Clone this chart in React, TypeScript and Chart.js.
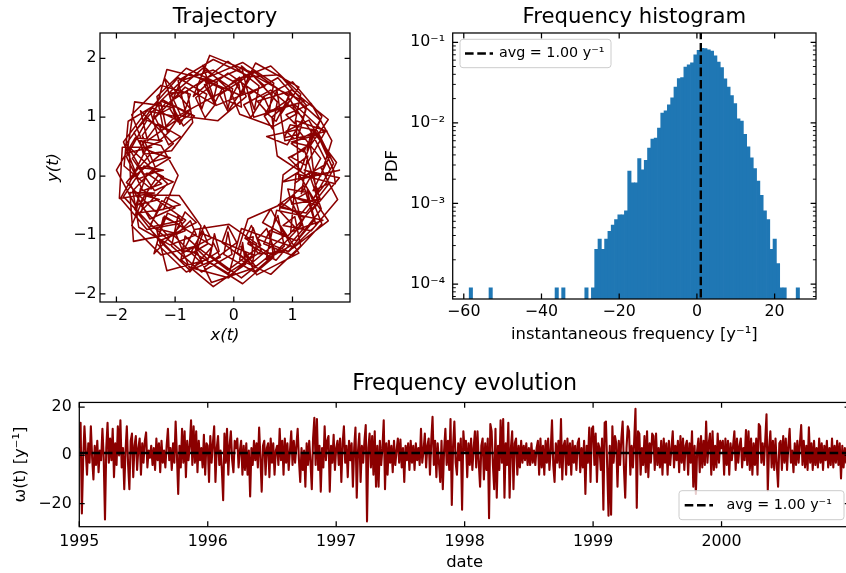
import React, { useEffect, useRef } from 'react';
import { Chart, registerables } from 'chart.js';

Chart.register(...registerables);

const FONT = "'DejaVu Sans', 'Liberation Sans', sans-serif";
const DARKRED = '#8b0000';
const HIST_BLUE = '#1f77b4';
const AVG_FREQ = 1.0;
const AVG_LABEL = 'avg = 1.00 y⁻¹';

// ---------- Trajectory (x(t), y(t)) : noisy laps around the ring ----------
const trajLap1: [number, number][] = [
  [1.65,0.10],[1.33,0.73],[0.98,0.55],[1.19,0.41],[1.47,0.95],[0.93,1.43],[0.40,1.27],[0.56,1.09],[0.75,1.48],[0.13,1.83],
  [-0.50,1.55],[-0.33,1.23],[-0.20,1.48],[-0.76,1.74],[-1.25,1.27],[-1.13,0.73],[-0.97,0.95],[-1.39,1.16],[-1.83,0.55],[-1.53,0.03],
  [-1.20,0.10],[-1.53,0.17],[-1.88,-0.35],[-1.39,-0.86],[-0.87,-0.75],[-1.13,-0.63],[-1.30,-1.07],[-0.76,-1.59],[-0.25,-1.28],[-0.33,-0.98],
  [-0.40,-1.35],[0.13,-1.73],[0.70,-1.28],[0.56,-0.89],[0.40,-1.07],[0.93,-1.28],[1.37,-0.75],[1.19,-0.16],[0.98,-0.35],[1.33,-0.43],
];
const trajLap2: [number, number][] = [
  [1.20,0.45],[0.93,0.31],[1.14,0.10],[1.36,0.69],[0.95,1.31],[0.52,1.02],[0.66,0.80],[0.74,1.26],[0.30,1.74],[-0.24,1.38],
  [-0.10,1.10],[0.09,1.38],[-0.50,1.64],[-1.09,1.26],[-0.86,0.85],[-0.67,1.02],[-1.15,1.26],[-1.56,0.69],[-1.34,0.15],[-1.08,0.31],
  [-1.40,0.40],[-1.83,-0.11],[-1.34,-0.60],[-0.91,-0.49],[-1.15,-0.36],[-1.42,-0.82],[-0.86,-1.30],[-0.39,-1.06],[-0.50,-0.84],[-0.66,-1.18],
  [-0.10,-1.60],[0.46,-1.18],[0.30,-0.84],[0.19,-1.06],[0.66,-1.35],[1.17,-0.82],[0.95,-0.36],[0.76,-0.49],[1.14,-0.65],[1.58,-0.11],
];
const trajLap3: [number, number][] = [
  [1.20,0.10],[1.48,0.00],[1.67,0.60],[1.32,1.23],[0.89,1.04],[1.04,0.89],[1.14,1.39],[0.63,1.87],[0.00,1.62],[0.15,1.38],
  [0.25,1.70],[-0.35,1.98],[-0.95,1.62],[-0.83,1.12],[-0.74,1.39],[-1.24,1.54],[-1.74,1.04],[-1.52,0.48],[-1.22,0.60],[-1.68,0.65],
  [-2.00,0.10],[-1.68,-0.50],[-1.27,-0.40],[-1.52,-0.33],[-1.74,-0.84],[-1.24,-1.34],[-0.64,-1.19],[-0.83,-1.02],[-0.90,-1.42],[-0.35,-1.88],
  [0.20,-1.50],[0.15,-1.13],[0.10,-1.42],[0.63,-1.67],[1.14,-1.19],[1.04,-0.69],[0.84,-0.84],[1.32,-0.93],[1.77,-0.40],[1.48,0.15],
];
const trajLap4: [number, number][] = [
  [1.15,-0.30],[1.48,0.30],[1.09,0.79],[0.56,0.67],[0.91,0.53],[1.19,0.99],[0.63,1.46],[0.17,1.21],[0.29,0.99],[0.50,1.33],
  [-0.10,1.75],[-0.65,1.33],[-0.49,0.99],[-0.32,1.21],[-0.83,1.51],[-1.34,0.99],[-1.11,0.53],[-0.91,0.67],[-1.29,0.89],[-1.73,0.30],
  [-1.35,-0.25],[-1.03,-0.10],[-1.29,0.01],[-1.61,-0.47],[-1.11,-1.03],[-0.64,-0.79],[-0.83,-0.61],[-1.02,-1.01],[-0.49,-1.54],[0.05,-1.13],
  [-0.10,-0.85],[-0.20,-1.13],[0.29,-1.49],[0.87,-1.01],[0.63,-0.56],[0.49,-0.79],[0.91,-1.03],[1.41,-0.47],[1.09,0.06],[0.83,-0.10],
];
const trajLap5: [number, number][] = [
  [1.70,0.10],[1.43,0.70],[0.98,0.58],[1.28,0.51],[1.50,1.01],[1.00,1.60],[0.51,1.35],[0.61,1.13],[0.68,1.58],[0.15,1.93],
  [-0.50,1.65],[-0.35,1.28],[-0.28,1.58],[-0.81,1.83],[-1.31,1.35],[-1.20,0.80],[-1.00,1.01],[-1.48,1.11],[-1.88,0.58],[-1.63,-0.05],
  [-1.25,0.10],[-1.63,0.15],[-1.93,-0.38],[-1.48,-0.91],[-0.95,-0.81],[-1.20,-0.70],[-1.31,-1.15],[-0.81,-1.63],[-0.23,-1.38],[-0.35,-1.13],
  [-0.45,-1.45],[0.15,-1.83],[0.68,-1.38],[0.61,-0.93],[0.51,-1.15],[1.00,-1.35],[1.50,-0.81],[1.28,-0.26],[1.08,-0.38],[1.43,-0.50],
];
const trajLap6: [number, number][] = [
  [1.30,0.55],[0.98,0.32],[1.23,0.18],[1.55,0.74],[1.03,1.22],[0.54,1.09],[0.72,0.93],[0.94,1.35],[0.33,1.78],[-0.18,1.48],
  [-0.10,1.15],[-0.02,1.48],[-0.53,1.83],[-1.09,1.35],[-0.92,0.88],[-0.79,1.09],[-1.23,1.27],[-1.70,0.74],[-1.43,0.23],[-1.13,0.32],
  [-1.50,0.45],[-1.78,-0.12],[-1.43,-0.73],[-1.00,-0.54],[-1.23,-0.42],[-1.44,-0.89],[-0.92,-1.43],[-0.44,-1.15],[-0.53,-0.93],[-0.72,-1.28],
  [-0.10,-1.65],[0.47,-1.28],[0.33,-0.88],[0.24,-1.15],[0.72,-1.43],[1.19,-0.89],[1.03,-0.32],[0.80,-0.54],[1.23,-0.63],[1.63,-0.12],
];
const trajLap7: [number, number][] = [
  [1.35,-0.25],[1.63,0.33],[1.28,0.95],[0.89,0.76],[1.07,0.60],[1.23,1.13],[0.75,1.67],[0.26,1.39],[0.35,1.13],[0.43,1.53],
  [-0.10,1.95],[-0.63,1.53],[-0.55,1.13],[-0.46,1.39],[-0.95,1.67],[-1.43,1.13],[-1.27,0.60],[-1.09,0.76],[-1.48,0.95],[-1.83,0.33],
  [-1.55,-0.25],[-1.23,-0.13],[-1.48,0.05],[-1.69,-0.56],[-1.27,-1.10],[-0.83,-0.93],[-0.95,-0.67],[-1.06,-1.19],[-0.55,-1.63],[-0.03,-1.33],
  [-0.10,-0.95],[-0.17,-1.33],[0.35,-1.63],[0.86,-1.19],[0.75,-0.67],[0.63,-0.93],[1.07,-1.10],[1.49,-0.56],[1.28,0.05],[1.03,-0.13],
];
const trajLap8: [number, number][] = [
  [1.70,0.21],[1.42,0.77],[0.96,0.87],[0.86,0.65],[1.11,0.71],[1.24,1.20],[0.78,1.72],[0.14,1.68],[-0.08,1.27],[0.13,1.17],
  [0.09,1.55],[-0.35,1.80],[-0.90,1.62],[-1.10,1.16],[-0.95,0.92],[-0.75,1.04],[-1.20,1.29],[-1.80,0.93],[-1.87,0.17],[-1.41,-0.22],
  [-1.20,-0.01],[-1.40,0.09],[-1.72,-0.25],[-1.62,-0.87],[-1.09,-1.17],[-0.64,-1.00],[-0.74,-0.76],[-0.98,-1.00],[-0.76,-1.55],[-0.09,-1.73],
  [0.31,-1.35],[0.33,-1.03],[0.22,-1.06],[0.42,-1.32],[0.93,-1.29],[1.40,-0.84],[1.26,-0.28],[0.92,-0.22],[0.99,-0.48],[1.47,-0.39],
];
const trajLap9: [number, number][] = [
  [1.75,0.23],[1.33,0.79],[1.25,0.44],[1.61,0.96],[0.98,1.47],[0.80,1.05],[1.11,1.51],[0.37,1.92],[0.09,1.35],[0.33,1.75],
  [-0.41,2.05],[-0.69,1.35],[-0.39,1.62],[-1.14,1.81],[-1.37,1.00],[-1.05,1.17],[-1.69,1.26],[-1.82,0.39],[-1.40,0.49],[-1.90,0.49],
  [-1.95,-0.38],[-1.35,-0.29],[-1.77,-0.28],[-1.71,-1.11],[-1.00,-0.97],[-1.32,-0.89],[-1.14,-1.61],[-0.44,-1.42],[-0.67,-1.20],[-0.38,-1.81],
  [0.38,-1.55],[0.12,-1.20],[0.39,-1.68],[1.11,-1.31],[0.80,-0.85],[1.00,-1.23],[1.61,-0.76],[1.25,-0.24],[1.33,-0.59],[1.80,-0.03],
];
const trajLap10: [number, number][] = [
  [1.55,0.19],[1.24,0.01],[0.74,0.34],[0.65,1.00],[0.97,1.29],[1.06,1.05],[0.67,0.84],[0.10,1.05],[-0.09,1.53],[0.10,1.68],
  [0.21,1.35],[-0.27,0.94],[-0.90,1.02],[-1.08,1.41],[-0.79,1.43],[-0.70,0.91],[-1.06,0.43],[-1.54,0.37],[-1.60,0.60],[-1.24,0.52],
  [-0.95,0.01],[-1.20,-0.57],[-1.58,-0.62],[-1.49,-0.32],[-0.93,-0.33],[-0.56,-0.85],[-0.65,-1.30],[-0.86,-1.27],[-0.67,-0.91],[-0.08,-0.82],
  [0.39,-1.15],[0.31,-1.50],[0.06,-1.30],[0.24,-0.73],[0.83,-0.47],[1.20,-0.71],[1.08,-0.91],[0.78,-0.59],[0.84,0.02],[1.26,0.34],
];
const trajLap11: [number, number][] = [
  [1.80,0.10],[1.11,-0.06],[1.06,0.94],[1.59,0.76],[0.87,0.60],[0.73,1.48],[1.20,1.27],[0.34,1.00],[0.13,1.87],[0.53,1.53],
  [-0.30,1.20],[-0.53,1.88],[-0.10,1.48],[-0.99,1.00],[-1.18,1.66],[-0.73,1.13],[-1.47,0.60],[-1.59,1.11],[-1.03,0.55],[-1.76,-0.06],
  [-1.78,0.49],[-1.13,-0.13],[-1.68,-0.70],[-1.59,-0.21],[-0.82,-0.75],[-1.36,-1.32],[-1.18,-0.68],[-0.36,-1.19],[-0.75,-1.63],[-0.53,-0.98],
  [0.35,-1.35],[-0.10,-1.72],[0.13,-0.89],[0.96,-1.19],[0.55,-1.42],[0.73,-0.58],[1.52,-0.75],[0.97,-0.95],[1.06,0.04],[1.73,-0.13],
];
const trajectoryLaps = [trajLap1, trajLap8, trajLap2, trajLap9, trajLap3, trajLap10, trajLap4, trajLap11, trajLap5, trajLap6, trajLap7];
const trajXTicks = [-2, -1, 0, 1];
const trajYTicks = [-2, -1, 0, 1, 2];

// ---------- Frequency histogram ----------
const HIST_MIN = -58.6;
const HIST_BIN = 0.85;
const histCounts = [
  1, 0, 0, 0, 0, 0, 1, 0, 0, 0,
  0, 0, 0, 0, 0, 0, 0, 0, 0, 0,
  0, 0, 0, 0, 0, 0, 1, 0, 1, 0,
  0, 0, 0, 0, 0, 1, 0, 1, 3, 4,
  3, 4, 5, 6, 7, 8, 8, 9, 28, 20,
  20, 40, 29, 38, 54, 70, 72, 96, 147, 157,
  186, 227, 309, 394, 404, 545, 583, 618, 778, 883,
  935, 925, 897, 863, 752, 631, 537, 392, 309, 243,
  192, 125, 117, 80, 56, 41, 30, 21, 14, 9,
  7, 3, 4, 2, 1, 1, 0, 0, 0, 1,
];
const histXTicks = [-60, -40, -20, 0, 20];
const histYTicks = [1e-4, 1e-3, 1e-2, 1e-1];
const histYLabels = ['10⁻⁴', '10⁻³', '10⁻²', '10⁻¹'];

// ---------- Frequency evolution ω(t) ----------
const YEARS = [1995, 1996, 1997, 1998, 1999, 2000];
const omega1995 = [3,13.5,-24,-2,12,2,-8,5,-3,12,-1,-10,4,-4,6,-7,2,-2,11,-1,-26.5,3,13.5,-3,7,-2,11,-9,5,-4,12,0,14.5,-5,3,-14,2,12,-4,-14,6,9,-9,4,8,-6,3,7,-8,5,-3,6,9.5,-5,2,-1,4,-4,3,-6,7,-2,5,-7,6,-3,2,-5,4,11,-2,3,-6,5,-3,14,0,-16,4,-5,11,-3,10,-9,6,-2,4,14.5,-4,12,-3,10,-7,6,-2,3,-5,8.5,-8,5];
const omega1996 = [4,-11,8,-3,5,12,-11,3,8,-4,2,-6,-18.5,9,-3,11,-8,4,10,-2,-7,6,3,7,-5,2,6,-8,4,-6,5,-8,2,-17,3,-4,6,-2,5,-5,11.5,-1,-15,4,6,-8,3,5,-9,7,-3,5,-8,2,4,-4,11,-2,6,-8,7,-3,5,-6,2,10,-4,6,-3,4,11,-2,-11,3,-6,2,-13,5,-4,6,-3,-14,7,15.5,-4,15,-6,4,-15,3,-5,12,-2,6,8,-15,4,-3,8.5,-6];
const omega1997 = [3,6,-4,7,-11,5,12,-3,4,-9,6,-2,5,-13,3,11.5,-17.5,2,9,-11,4,-3,6,12.5,-27.3,3,9,-5,8,-8,10,-13,4,-13,6,-4,3,14.5,-14,5,-8,6,-3,4,-7,6,-4,2,7,-3,6.5,-5,3,-11,4,-2,5,-6,6,-3,4,-6,5,-2,3,-4,11,-3,2,9,-5,4,7,-8,6,16,-4,6,-9,5,-3,-11,6,-14,2,11,-4,6,-6,15,-20.5,4,14,-3,-8,5,-2,7,-22.5,10];
const omega1998 = [2,6,-9,5,-4,7,-6,3,10,-5,10,-3,-13,4,7,-10,5,-6,7,-26,13,10,-4,-14,11,-17.5,4,-6,14.5,-3,15,-17.5,5,-4,13.5,-17.5,3,10,-14,5,7,-8,4,-5,6,-3,4,-2,5,-4,3,-4,5,-3,2,-4,3,6,-8,7,-5,4,-8,6,-3,7,-6,2,14.5,-4,-11,5,-3,6,-5,15,-10,4,6,-8,7,-4,5,-8,6,-3,4,-6,5,7,-7,3,-5,6,-16,4,-3,11.5,-11,11];
const omega1999 = [12,-4,9,-11,5,3,-6,7,-22.5,13.5,14,-5,-25,4,-24.5,12,-3,8,5,-13,6,-4,7,14,-5,-17.5,3,12,10,-8,4,-5,6,19.3,-21.7,10,9,-8,3,-4,8,-7,10,-9,5,-3,9,8,-6,9,-4,3,-5,6,-8,7,-3,5,-8,6,-4,3,10,-5,4,-2,6,-7,8,-3,7,-6,4,6,-8,5,-3,10,-13,4,-16,2,7,-7,8,-5,6,-4,14,-3,5,9,-8,10,-6,4,-5,9,-3,6];
const omega2000 = [3,6,-8,7,-4,6,-8,5,-2,4,10,-6,7,-3,4,7,-5,3,-2,10.5,-4,10,-6,7,-8,5,-4,7,-8,13,12,-3,5,-4,6,17,-14.5,3,10,-5,6,-6,7,-4,-13,5,6,-6,8,-3,7,-6,4,11,-3,2,-7,5,-4,6,-3,5,12.5,-4,6,-5,4,-6,11.6,-3,5,-6,6,-4,3,-5,7,-3,5,-6,4,-2,6,-5,3,-4,7,-5,4,-3,6,-4,5,-9.5,4,-5,3,-3,5,2];
const omegaByYear = [omega1995, omega1996, omega1997, omega1998, omega1999, omega2000];
const evoXTicks = [1995, 1996, 1997, 1998, 1999, 2000];
const evoYTicks = [-20, 0, 20];

// ---------- helpers ----------
const TICK_SIZE = 15.8;
const LABEL_SIZE = 16.4;
const fmt = (v: number) => (v < 0 ? '−' + Math.abs(v) : String(v));

function axis(o: any) {
  const bottom = o.position === 'bottom';
  return {
    type: o.type || 'linear',
    position: o.position,
    min: o.min,
    max: o.max,
    offset: false,
    grid: { display: false, drawTicks: false },
    border: { display: false },
    afterBuildTicks: (s: any) => {
      s.ticks = o.ticks.map((v: number) => ({ value: v }));
    },
    afterFit: (s: any) => {
      if (bottom) s.height = o.size;
      else s.width = o.size;
    },
    ticks: {
      autoSkip: false,
      maxRotation: 0,
      minRotation: 0,
      padding: o.pad,
      color: '#000',
      font: { family: FONT, size: TICK_SIZE },
      callback: (v: number, i: number) => (o.labels ? o.labels[i] : fmt(v)),
    },
    title: {
      display: true,
      text: o.title,
      color: '#000',
      font: { family: FONT, size: LABEL_SIZE, style: o.italic ? 'italic' : 'normal' },
      padding: bottom ? { top: 0, bottom: o.titlePad } : { top: o.titlePad, bottom: 0 },
    },
  };
}

function titleOpts(text: string, size: number, top: number, bottom: number) {
  return {
    display: true,
    text,
    fullSize: false,
    color: '#000',
    font: { family: FONT, size, weight: 'normal' },
    padding: { top, bottom },
  };
}

const framePlugin = {
  id: 'mplFrame',
  afterDraw(chart: any, _args: any, opts: any) {
    const { ctx, chartArea: a } = chart;
    const xs = chart.scales.x;
    const ys = chart.scales.y;
    const MAJ = 5.4;
    const MIN = 3.1;
    ctx.save();
    ctx.strokeStyle = '#000';
    ctx.lineCap = 'butt';
    ctx.lineWidth = 1.25;
    ctx.beginPath();
    xs.ticks.forEach((t: any) => {
      const p = xs.getPixelForValue(t.value);
      ctx.moveTo(p, a.bottom);
      ctx.lineTo(p, a.bottom - MAJ);
      ctx.moveTo(p, a.top);
      ctx.lineTo(p, a.top + MAJ);
    });
    ys.ticks.forEach((t: any) => {
      const p = ys.getPixelForValue(t.value);
      ctx.moveTo(a.left, p);
      ctx.lineTo(a.left + MAJ, p);
      ctx.moveTo(a.right, p);
      ctx.lineTo(a.right - MAJ, p);
    });
    ctx.stroke();
    if (opts && opts.minorLog) {
      ctx.lineWidth = 0.95;
      ctx.beginPath();
      for (let n = -6; n <= 0; n++) {
        for (let m = 2; m <= 9; m++) {
          const v = m * Math.pow(10, n);
          if (v <= ys.min || v >= ys.max) continue;
          const p = ys.getPixelForValue(v);
          ctx.moveTo(a.left, p);
          ctx.lineTo(a.left + MIN, p);
          ctx.moveTo(a.right, p);
          ctx.lineTo(a.right - MIN, p);
        }
      }
      ctx.stroke();
    }
    ctx.lineWidth = 1.25;
    ctx.strokeRect(a.left, a.top, a.right - a.left, a.bottom - a.top);

    const L = opts && opts.legend;
    if (L) {
      const bx = L.anchor === 'tl' ? a.left + L.dx : a.right - L.dx - L.w;
      const by = L.anchor === 'tl' ? a.top + L.dy : a.bottom - L.dy - L.h;
      ctx.beginPath();
      ctx.roundRect(bx, by, L.w, L.h, 3);
      ctx.fillStyle = 'rgba(255,255,255,0.8)';
      ctx.fill();
      ctx.strokeStyle = '#cccccc';
      ctx.lineWidth = 1;
      ctx.stroke();
      const cy = by + L.h / 2;
      ctx.strokeStyle = '#000';
      ctx.lineWidth = 2.4;
      ctx.setLineDash([8.6, 3.7]);
      ctx.beginPath();
      ctx.moveTo(bx + L.d0, cy);
      ctx.lineTo(bx + L.d1, cy);
      ctx.stroke();
      ctx.setLineDash([]);
      ctx.fillStyle = '#000';
      ctx.font = `${L.size}px ${FONT}`;
      ctx.textAlign = 'left';
      ctx.textBaseline = 'middle';
      ctx.fillText(L.text, bx + L.tx, cy);
    }
    ctx.restore();
  },
};

const baseOptions = {
  responsive: false,
  animation: false,
  events: [],
  devicePixelRatio: 1,
};

function trajectoryConfig(): any {
  const pts = trajectoryLaps.flat().map(([x, y]) => ({ x, y }));
  return {
    type: 'scatter',
    data: {
      datasets: [
        {
          data: pts,
          showLine: true,
          borderColor: DARKRED,
          borderWidth: 1.55,
          borderJoinStyle: 'round',
          pointRadius: 0,
          fill: false,
          tension: 0,
        },
      ],
    },
    options: {
      ...baseOptions,
      layout: { padding: { left: 0, top: 0, right: 20, bottom: 0 } },
      plugins: {
        legend: { display: false },
        tooltip: { enabled: false },
        title: titleOpts('Trajectory', 21.2, 5.1, 2.45),
        mplFrame: {},
      },
      scales: {
        x: axis({ position: 'bottom', min: -2.28, max: 1.98, ticks: trajXTicks, size: 48, pad: 4.5, title: 'x(t)', italic: true, titlePad: 4.0 }),
        y: axis({ position: 'left', min: -2.14, max: 2.43, ticks: trajYTicks, size: 100, pad: 3.5, title: 'y(t)', italic: true, titlePad: 44.2 }),
      },
    },
    plugins: [framePlugin],
  };
}

function histogramConfig(): any {
  const total = histCounts.reduce((s, c) => s + c, 0);
  const bars = histCounts
    .map((c, k) => ({ x: HIST_MIN + HIST_BIN * (k + 0.5), y: c / (total * HIST_BIN), c }))
    .filter((d) => d.c > 0)
    .map(({ x, y }) => ({ x, y }));
  return {
    type: 'bar',
    data: {
      datasets: [
        {
          type: 'line',
          data: [
            { x: AVG_FREQ, y: 1e-6 },
            { x: AVG_FREQ, y: 1 },
          ],
          borderColor: '#000',
          borderWidth: 2.4,
          borderDash: [8.6, 3.7],
          pointRadius: 0,
          fill: false,
          order: 0,
        },
        {
          type: 'bar',
          data: bars,
          backgroundColor: HIST_BLUE,
          borderWidth: 0,
          barPercentage: 1.22,
          categoryPercentage: 1,
          order: 1,
        },
      ],
    },
    options: {
      ...baseOptions,
      layout: { padding: { left: 0, top: 0, right: 30, bottom: 0 } },
      plugins: {
        legend: { display: false },
        tooltip: { enabled: false },
        title: titleOpts('Frequency histogram', 21.2, 5.1, 2.45),
        mplFrame: {
          minorLog: true,
          legend: { anchor: 'tl', dx: 7.3, dy: 6.3, w: 151, h: 28.4, d0: 5, d1: 33, tx: 39, size: 14.3, text: AVG_LABEL },
        },
      },
      scales: {
        x: axis({ position: 'bottom', min: -62.85, max: 30.65, ticks: histXTicks, size: 51, pad: 3.8, title: 'instantaneous frequency [y⁻¹]', titlePad: 5.2 }),
        y: axis({ type: 'logarithmic', position: 'left', min: 6.52e-5, max: 0.1303, ticks: histYTicks, labels: histYLabels, size: 82.7, pad: 7.7, title: 'PDF', titlePad: 13.2 }),
      },
    },
    plugins: [framePlugin],
  };
}

function evolutionConfig(): any {
  const series = omegaByYear.flatMap((arr, j) => arr.map((v, i) => ({ x: YEARS[j] + i / arr.length, y: v })));
  return {
    type: 'line',
    data: {
      datasets: [
        {
          data: [
            { x: 1995, y: AVG_FREQ },
            { x: 2001, y: AVG_FREQ },
          ],
          borderColor: '#000',
          borderWidth: 2.5,
          borderDash: [8.6, 3.7],
          pointRadius: 0,
          fill: false,
          order: 0,
        },
        {
          data: series,
          borderColor: DARKRED,
          borderWidth: 2.1,
          borderJoinStyle: 'round',
          pointRadius: 0,
          fill: false,
          tension: 0,
          order: 1,
        },
      ],
    },
    options: {
      ...baseOptions,
      layout: { padding: { left: 0, top: 0, right: 20, bottom: 0 } },
      plugins: {
        legend: { display: false },
        tooltip: { enabled: false },
        title: titleOpts('Frequency evolution', 22.2, 21.0, 4.8),
        mplFrame: {
          legend: { anchor: 'br', dx: 6, dy: 7, w: 165, h: 29, d0: 5.7, d1: 34, tx: 47.4, size: 14.3, text: AVG_LABEL },
        },
      },
      scales: {
        x: axis({ position: 'bottom', min: 1995, max: 2001, ticks: evoXTicks, labels: evoXTicks.map(String), size: 46.3, pad: 5.5, title: 'date', titlePad: 0.6 }),
        y: axis({ position: 'left', min: -29.5, max: 21.9, ticks: evoYTicks, size: 79.3, pad: 7.6, title: 'ω(t) [y⁻¹]', titlePad: 11.2 }),
      },
    },
    plugins: [framePlugin],
  };
}

function ChartCanvas(props: { left: number; top: number; width: number; height: number; make: () => any }) {
  const ref = useRef<HTMLCanvasElement>(null);
  useEffect(() => {
    const chart = new Chart(ref.current as HTMLCanvasElement, props.make());
    return () => chart.destroy();
  }, []);
  return (
    <canvas
      ref={ref}
      width={props.width}
      height={props.height}
      style={{ position: 'absolute', left: props.left, top: props.top, width: props.width, height: props.height, display: 'block' }}
    />
  );
}

export default function App() {
  return (
    <div style={{ position: 'absolute', left: 0, top: 0, width: 846, height: 573, overflow: 'hidden', background: '#fff' }}>
      <ChartCanvas left={0} top={0} width={370} height={350} make={trajectoryConfig} />
      <ChartCanvas left={370} top={0} width={476} height={350} make={histogramConfig} />
      <ChartCanvas left={0} top={350} width={870} height={223} make={evolutionConfig} />
    </div>
  );
}
